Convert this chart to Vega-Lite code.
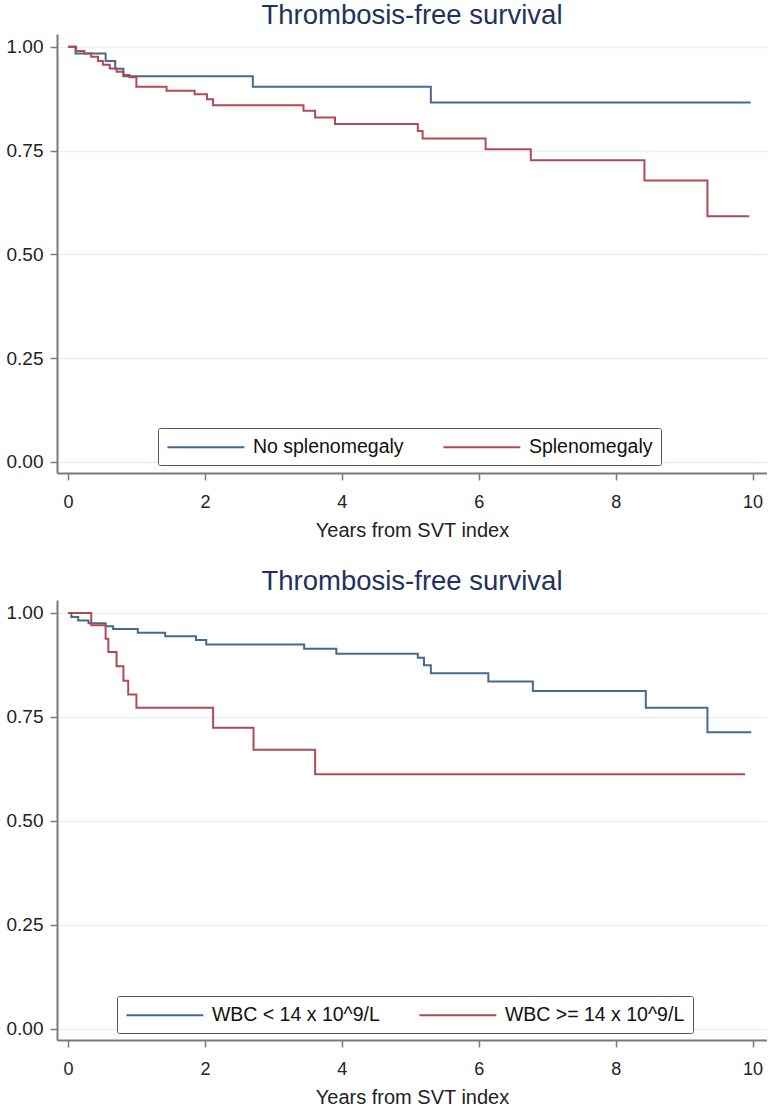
{
  "$schema": "https://vega.github.io/schema/vega-lite/v6.json",
  "background": "white",
  "padding": {"left": 6, "top": 1, "right": 0, "bottom": 0},
  "autosize": {"type": "pad"},
  "spacing": 127,
  "bounds": "flush",
  "config": {
    "font": "Liberation Sans",
    "view": {"stroke": null},
    "title": {"fontSize": 27.5, "fontWeight": "normal", "color": "#23315e", "anchor": "middle", "offset": 5, "font": "Liberation Sans"},
    "axis": {"labelFont": "Liberation Sans", "titleFont": "Liberation Sans", "labelColor": "#222", "titleColor": "#222", "domainColor": "#7a7a7a", "domainWidth": 2, "tickColor": "#7a7a7a", "tickWidth": 1.5, "tickSize": 7, "titleFontWeight": "normal"},
    "legend": {"labelFont": "Liberation Sans"}
  },
  "resolve": {"scale": {"color": "independent"}, "legend": {"color": "independent"}},
  "vconcat": [
    {
      "title": "Thrombosis-free survival",
      "width": 710,
      "height": 439,
      "data": {"values": [
        {"group": "No splenomegaly", "t": 0, "s": 1.0},
        {"group": "No splenomegaly", "t": 0.11, "s": 0.984},
        {"group": "No splenomegaly", "t": 0.55, "s": 0.966},
        {"group": "No splenomegaly", "t": 0.69, "s": 0.947},
        {"group": "No splenomegaly", "t": 0.81, "s": 0.929},
        {"group": "No splenomegaly", "t": 2.70, "s": 0.904},
        {"group": "No splenomegaly", "t": 5.30, "s": 0.866},
        {"group": "No splenomegaly", "t": 9.97, "s": 0.866},
        {"group": "Splenomegaly", "t": 0, "s": 1.0},
        {"group": "Splenomegaly", "t": 0.12, "s": 0.99},
        {"group": "Splenomegaly", "t": 0.24, "s": 0.984},
        {"group": "Splenomegaly", "t": 0.34, "s": 0.976},
        {"group": "Splenomegaly", "t": 0.44, "s": 0.966},
        {"group": "Splenomegaly", "t": 0.51, "s": 0.957},
        {"group": "Splenomegaly", "t": 0.61, "s": 0.948},
        {"group": "Splenomegaly", "t": 0.71, "s": 0.94},
        {"group": "Splenomegaly", "t": 0.81, "s": 0.932},
        {"group": "Splenomegaly", "t": 0.90, "s": 0.927},
        {"group": "Splenomegaly", "t": 1.00, "s": 0.904},
        {"group": "Splenomegaly", "t": 1.44, "s": 0.894},
        {"group": "Splenomegaly", "t": 1.85, "s": 0.886},
        {"group": "Splenomegaly", "t": 2.03, "s": 0.874},
        {"group": "Splenomegaly", "t": 2.12, "s": 0.859},
        {"group": "Splenomegaly", "t": 3.44, "s": 0.846},
        {"group": "Splenomegaly", "t": 3.61, "s": 0.83},
        {"group": "Splenomegaly", "t": 3.90, "s": 0.814},
        {"group": "Splenomegaly", "t": 5.11, "s": 0.797},
        {"group": "Splenomegaly", "t": 5.18, "s": 0.779},
        {"group": "Splenomegaly", "t": 6.10, "s": 0.753},
        {"group": "Splenomegaly", "t": 6.76, "s": 0.727},
        {"group": "Splenomegaly", "t": 8.42, "s": 0.678},
        {"group": "Splenomegaly", "t": 9.34, "s": 0.592},
        {"group": "Splenomegaly", "t": 9.95, "s": 0.592}
      ]},
      "mark": {"type": "line", "interpolate": "step-after", "strokeWidth": 2},
      "encoding": {
        "x": {"field": "t", "type": "quantitative", "scale": {"domain": [-0.16, 10.21], "nice": false, "zero": false},
              "axis": {"values": [0, 2, 4, 6, 8, 10], "grid": false, "title": "Years from SVT index", "titleFontSize": 20, "labelFontSize": 18, "labelPadding": 13, "titlePadding": 9}},
        "y": {"field": "s", "type": "quantitative", "scale": {"domain": [-0.027, 1.031], "nice": false, "zero": false},
              "axis": {"values": [0, 0.25, 0.5, 0.75, 1], "format": ".2f", "title": null, "labelFontSize": 19, "labelPadding": 7, "grid": true, "gridColor": "#e6eff1", "gridWidth": 1.5}},
        "color": {"field": "group", "type": "nominal",
                  "scale": {"domain": ["No splenomegaly", "Splenomegaly"], "range": ["#45698f", "#b04a53"]},
                  "legend": {"orient": "none", "legendX": 101, "legendY": 394, "direction": "horizontal", "columns": 2, "title": null,
                             "symbolType": "M-4,0H4", "symbolSize": 370, "symbolOffset": 28.9, "symbolStrokeWidth": 2, "labelFontSize": 19.5, "labelColor": "#111",
                             "labelOffset": 36, "columnPadding": 35, "padding": 8, "strokeColor": "#555", "fillColor": "white", "cornerRadius": 2, "labelLimit": 400}}
      }
    },
    {
      "title": "Thrombosis-free survival",
      "width": 710,
      "height": 440,
      "data": {"values": [
        {"group": "WBC < 14 x 10^9/L", "t": 0, "s": 1.0},
        {"group": "WBC < 14 x 10^9/L", "t": 0.05, "s": 0.99},
        {"group": "WBC < 14 x 10^9/L", "t": 0.15, "s": 0.982},
        {"group": "WBC < 14 x 10^9/L", "t": 0.30, "s": 0.975},
        {"group": "WBC < 14 x 10^9/L", "t": 0.55, "s": 0.968},
        {"group": "WBC < 14 x 10^9/L", "t": 0.66, "s": 0.961},
        {"group": "WBC < 14 x 10^9/L", "t": 1.02, "s": 0.952},
        {"group": "WBC < 14 x 10^9/L", "t": 1.42, "s": 0.944},
        {"group": "WBC < 14 x 10^9/L", "t": 1.87, "s": 0.935},
        {"group": "WBC < 14 x 10^9/L", "t": 2.02, "s": 0.924},
        {"group": "WBC < 14 x 10^9/L", "t": 3.45, "s": 0.914},
        {"group": "WBC < 14 x 10^9/L", "t": 3.92, "s": 0.902},
        {"group": "WBC < 14 x 10^9/L", "t": 5.11, "s": 0.892},
        {"group": "WBC < 14 x 10^9/L", "t": 5.20, "s": 0.874},
        {"group": "WBC < 14 x 10^9/L", "t": 5.30, "s": 0.855},
        {"group": "WBC < 14 x 10^9/L", "t": 6.14, "s": 0.835},
        {"group": "WBC < 14 x 10^9/L", "t": 6.79, "s": 0.812},
        {"group": "WBC < 14 x 10^9/L", "t": 8.44, "s": 0.772},
        {"group": "WBC < 14 x 10^9/L", "t": 9.34, "s": 0.713},
        {"group": "WBC < 14 x 10^9/L", "t": 9.98, "s": 0.713},
        {"group": "WBC >= 14 x 10^9/L", "t": 0, "s": 1.0},
        {"group": "WBC >= 14 x 10^9/L", "t": 0.34, "s": 0.97},
        {"group": "WBC >= 14 x 10^9/L", "t": 0.55, "s": 0.938},
        {"group": "WBC >= 14 x 10^9/L", "t": 0.59, "s": 0.906},
        {"group": "WBC >= 14 x 10^9/L", "t": 0.71, "s": 0.872},
        {"group": "WBC >= 14 x 10^9/L", "t": 0.81, "s": 0.837},
        {"group": "WBC >= 14 x 10^9/L", "t": 0.88, "s": 0.804},
        {"group": "WBC >= 14 x 10^9/L", "t": 1.00, "s": 0.772},
        {"group": "WBC >= 14 x 10^9/L", "t": 2.12, "s": 0.724},
        {"group": "WBC >= 14 x 10^9/L", "t": 2.71, "s": 0.671},
        {"group": "WBC >= 14 x 10^9/L", "t": 3.61, "s": 0.612},
        {"group": "WBC >= 14 x 10^9/L", "t": 9.89, "s": 0.612}
      ]},
      "mark": {"type": "line", "interpolate": "step-after", "strokeWidth": 2},
      "encoding": {
        "x": {"field": "t", "type": "quantitative", "scale": {"domain": [-0.16, 10.21], "nice": false, "zero": false},
              "axis": {"values": [0, 2, 4, 6, 8, 10], "grid": false, "title": "Years from SVT index", "titleFontSize": 20, "labelFontSize": 18, "labelPadding": 13, "titlePadding": 9}},
        "y": {"field": "s", "type": "quantitative", "scale": {"domain": [-0.027, 1.031], "nice": false, "zero": false},
              "axis": {"values": [0, 0.25, 0.5, 0.75, 1], "format": ".2f", "title": null, "labelFontSize": 19, "labelPadding": 7, "grid": true, "gridColor": "#e6eff1", "gridWidth": 1.5}},
        "color": {"field": "group", "type": "nominal",
                  "scale": {"domain": ["WBC < 14 x 10^9/L", "WBC >= 14 x 10^9/L"], "range": ["#45698f", "#b04a53"]},
                  "legend": {"orient": "none", "legendX": 60, "legendY": 396, "direction": "horizontal", "columns": 2, "title": null,
                             "symbolType": "M-4,0H4", "symbolSize": 370, "symbolOffset": 28.9, "symbolStrokeWidth": 2, "labelFontSize": 19.5, "labelColor": "#111",
                             "labelOffset": 36, "columnPadding": 35, "padding": 8, "strokeColor": "#555", "fillColor": "white", "cornerRadius": 2, "labelLimit": 400}}
      }
    }
  ]
}
